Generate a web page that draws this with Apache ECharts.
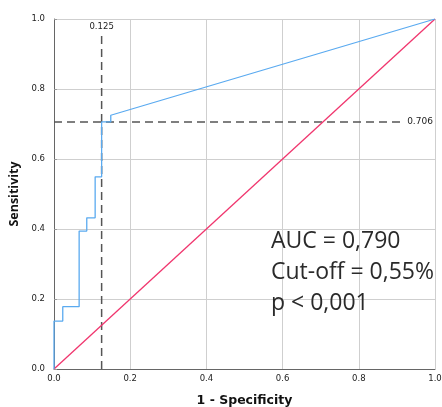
<!DOCTYPE html>
<html>
<head>
<meta charset="utf-8">
<script src="https://cdn.jsdelivr.net/npm/echarts@6/dist/echarts.min.js"></script>
<style>
html,body{margin:0;padding:0;background:#fff;}
#chart{width:442px;height:407px;}
</style>
</head>
<body>
<div id="chart"></div>
<script>
// ROC curve vertices (1 - specificity, sensitivity)
var rocFpr = [0, 0, 0.023, 0.023, 0.066, 0.066, 0.086, 0.086, 0.108, 0.108, 0.125, 0.125, 0.149, 0.149, 1];
var rocTpr = [0, 0.137, 0.137, 0.178, 0.178, 0.394, 0.394, 0.432, 0.432, 0.549, 0.549, 0.706, 0.706, 0.725, 1];
var refFpr = [0, 1];
var refTpr = [0, 1];
var cutFpr = 0.125;
var cutTpr = 0.706;
var xTicks = [0, 0.2, 0.4, 0.6, 0.8, 1.0];
var yTicks = [0, 0.2, 0.4, 0.6, 0.8, 1.0];
var annotations = ['AUC = 0,790', 'Cut-off = 0,55%', 'p < 0,001'];

function zip(a, b) { return a.map(function (v, i) { return [v, b[i]]; }); }

var chart = echarts.init(document.getElementById('chart'), null, {renderer: 'canvas'});
var labelFont = {fontFamily: 'DejaVu Sans', fontSize: 8.5, color: '#222'};
var dash = {color: '#555', width: 1.5, type: [8, 5]};

chart.setOption({
  animation: false,
  backgroundColor: '#fff',
  grid: {left: 54, right: 7, top: 19, bottom: 38, containLabel: false, outerBoundsMode: 'none'},
  xAxis: {
    type: 'value', min: 0, max: 1, interval: 0.2,
    name: '1 - Specificity', nameLocation: 'middle', nameGap: 25,
    nameTextStyle: {fontFamily: 'DejaVu Sans', fontWeight: 'bold', fontSize: 12.5, color: '#111'},
    axisLine: {show: true, lineStyle: {color: '#666', width: 1}},
    axisTick: {show: false},
    axisLabel: Object.assign({margin: 5, formatter: function (v) { return v.toFixed(1); }}, labelFont),
    splitLine: {show: true, lineStyle: {color: '#cfcfcf', width: 1}}
  },
  yAxis: {
    type: 'value', min: 0, max: 1, interval: 0.2,
    name: 'Sensitivity', nameLocation: 'middle', nameGap: 30,
    nameTextStyle: {fontFamily: 'Open Sans', fontWeight: 'bold', fontSize: 12.5, color: '#111'},
    axisLine: {show: true, lineStyle: {color: '#666', width: 1}},
    axisTick: {show: true, inside: true, length: 3, lineStyle: {color: '#999'}},
    axisLabel: Object.assign({margin: 9, formatter: function (v) { return v.toFixed(1); }}, labelFont),
    splitLine: {show: true, lineStyle: {color: '#cfcfcf', width: 1}}
  },
  series: [
    {
      type: 'line', data: zip(refFpr, refTpr), symbol: 'none',
      lineStyle: {color: '#f0366e', width: 1.3}, z: 3
    },
    {
      type: 'line', data: zip([cutFpr, cutFpr], [0, 0.963]), symbol: 'none',
      lineStyle: dash, z: 2,
      endLabel: {show: true, formatter: function () { return String(cutFpr); }, distance: 0,
        fontFamily: 'DejaVu Sans', fontSize: 8.5, color: '#222', align: 'center', verticalAlign: 'bottom', offset: [0, -1]}
    },
    {
      type: 'line', data: zip([0, 0.919], [cutTpr, cutTpr]), symbol: 'none',
      lineStyle: dash, z: 2,
      endLabel: {show: true, formatter: function () { return String(cutTpr); }, distance: 3,
        fontFamily: 'DejaVu Sans', fontSize: 9, color: '#222'}
    },
    {
      type: 'line', data: zip(rocFpr, rocTpr), symbol: 'none',
      lineStyle: {color: '#5aaaf0', width: 1.3}, z: 4
    }
  ],
  graphic: annotations.map(function (t, i) {
    return {
      type: 'text', left: 271, top: 230 + i * 31, z: 10,
      style: {text: t, fontFamily: 'Open Sans', fontSize: 23, fill: '#2a2a2a'}
    };
  })
});
</script>
</body>
</html>
